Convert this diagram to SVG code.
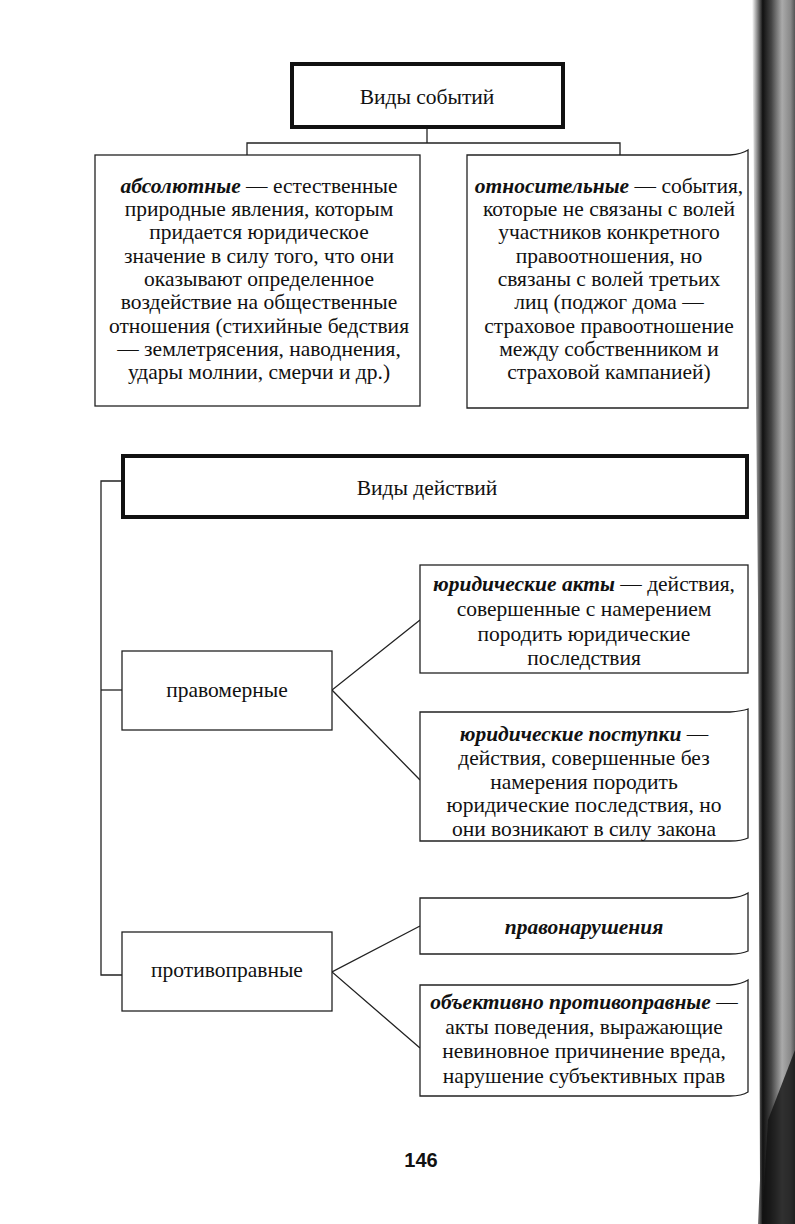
<svg xmlns="http://www.w3.org/2000/svg" width="795" height="1224" viewBox="0 0 795 1224">
<defs>
<style>
.t{font-family:"Liberation Serif","Times New Roman",serif;font-size:21.5px;fill:#111;text-anchor:middle}
.b{font-weight:bold;font-style:italic}
.box{fill:#fff;stroke:#222;stroke-width:1.3}
.thick{fill:#fff;stroke:#111;stroke-width:4}
.ln{fill:none;stroke:#222;stroke-width:1.3}
.pg{font-family:"Liberation Sans",Arial,sans-serif;font-size:20px;font-weight:bold;fill:#111;text-anchor:middle}
</style>
<linearGradient id="edge" x1="0" y1="0" x2="1" y2="0">
<stop offset="0" stop-color="#fff"/>
<stop offset="0.25" stop-color="#111"/>
<stop offset="0.45" stop-color="#444"/>
<stop offset="0.7" stop-color="#aaa"/>
<stop offset="0.9" stop-color="#888"/>
<stop offset="1" stop-color="#555"/>
</linearGradient>
</defs>
<rect width="795" height="1224" fill="#fff"/>
<polygon points="752,0 795,0 795,1224 758,1224 760,1180 758,600" fill="url(#edge)"/>
<polygon points="768,1120 795,1050 795,1224 762,1224" fill="#111" opacity="0.8"/>

<g id="connectors">
<polyline class="ln" points="427,127 427,143"/>
<polyline class="ln" points="247,155 247,143 620,143 620,155"/>
<polyline class="ln" points="122,481 101,481 101,975 122,975"/>
<line class="ln" x1="101" y1="690" x2="122" y2="690"/>
<polyline class="ln" points="420,620 332,690 420,780"/>
<polyline class="ln" points="420,926 332,972 420,1048"/>
</g>

<g id="events">
<rect class="thick" x="292" y="64" width="271" height="63"/>
<text class="t" x="427" y="104">Виды событий</text>
</g>

<g id="absolute">
<rect class="box" x="95" y="155" width="325" height="251"/>
<text class="t" x="259" y="193"><tspan class="b">абсолютные</tspan> — естественные</text>
<text class="t" x="259" y="216">природные явления, которым</text>
<text class="t" x="259" y="239">придается юридическое</text>
<text class="t" x="259" y="263">значение в силу того, что они</text>
<text class="t" x="259" y="286">оказывают определенное</text>
<text class="t" x="259" y="309">воздействие на общественные</text>
<text class="t" x="259" y="333">отношения (стихийные бедствия</text>
<text class="t" x="259" y="356">— землетрясения, наводнения,</text>
<text class="t" x="259" y="379">удары молнии, смерчи и др.)</text>
</g>

<g id="relative">
<path class="box" d="M467,155 L730,155 Q742,154 748,150 L748,408 L467,408 Z"/>
<text class="t" x="609" y="193"><tspan class="b">относительные</tspan> — события,</text>
<text class="t" x="609" y="216">которые не связаны с волей</text>
<text class="t" x="609" y="239">участников конкретного</text>
<text class="t" x="609" y="263">правоотношения, но</text>
<text class="t" x="609" y="286">связаны с волей третьих</text>
<text class="t" x="609" y="309">лиц (поджог дома —</text>
<text class="t" x="609" y="333">страховое правоотношение</text>
<text class="t" x="609" y="356">между собственником и</text>
<text class="t" x="609" y="379">страховой кампанией)</text>
</g>

<g id="actions">
<rect class="thick" x="123" y="456" width="624" height="61"/>
<text class="t" x="427" y="495">Виды действий</text>
</g>

<g id="lawful">
<rect class="box" x="122" y="651" width="210" height="79"/>
<text class="t" x="227" y="697">правомерные</text>
</g>

<g id="legal-acts">
<rect class="box" x="420" y="565" width="328" height="108"/>
<text class="t" x="584" y="591"><tspan class="b">юридические акты</tspan> — действия,</text>
<text class="t" x="584" y="616">совершенные с намерением</text>
<text class="t" x="584" y="641">породить юридические</text>
<text class="t" x="584" y="665">последствия</text>
</g>

<g id="legal-deeds">
<path class="box" d="M420,712 L730,712 Q742,711 748,709 L748,838 Q742,841 730,841 L420,841 Z"/>
<text class="t" x="584" y="741"><tspan class="b">юридические поступки</tspan> —</text>
<text class="t" x="584" y="765">действия, совершенные без</text>
<text class="t" x="584" y="789">намерения породить</text>
<text class="t" x="584" y="812">юридические последствия, но</text>
<text class="t" x="584" y="836">они возникают в силу закона</text>
</g>

<g id="unlawful">
<rect class="box" x="122" y="932" width="210" height="79"/>
<text class="t" x="227" y="977">противоправные</text>
</g>

<g id="offences">
<path class="box" d="M420,898 L730,898 Q742,897 748,893 L748,951 Q742,954 730,954 L420,954 Z"/>
<text class="t b" x="584" y="934">правонарушения</text>
</g>

<g id="objective">
<path class="box" d="M420,985 L730,985 Q742,984 748,980 L748,1092 Q742,1096 730,1096 L420,1096 Z"/>
<text class="t" x="584" y="1009"><tspan class="b">объективно противоправные</tspan> —</text>
<text class="t" x="584" y="1034">акты поведения, выражающие</text>
<text class="t" x="584" y="1058">невиновное причинение вреда,</text>
<text class="t" x="584" y="1083">нарушение субъективных прав</text>
</g>

<text class="pg" x="421" y="1167">146</text>
</svg>
